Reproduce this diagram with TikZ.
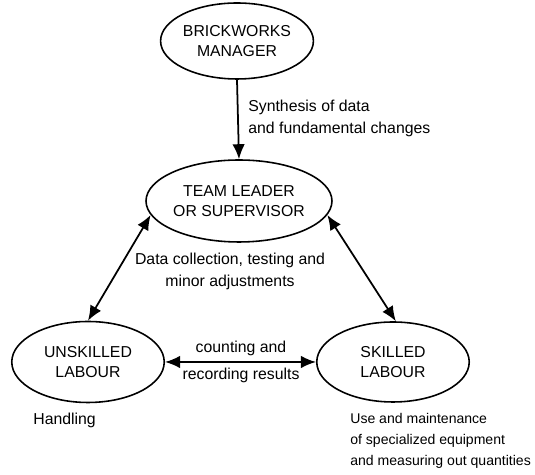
\documentclass[tikz,border=0pt]{standalone}
\usepackage{fontspec}
\setmainfont{Liberation Sans}
\usetikzlibrary{arrows.meta,shapes.geometric}

\begin{document}
\begin{tikzpicture}[x=0.02cm,y=-0.02cm,
    every node/.style={font=\fontsize{9}{12.5}\selectfont,align=center,inner sep=0pt},
    role/.style={draw,line width=0.9pt,ellipse,minimum width=2.9cm,minimum height=1.6cm,font=\fontsize{9}{11.5}\selectfont},
    note/.style={align=left},
    link/.style={line width=1pt,-{Latex[length=3mm,width=2.5mm]}},
    twoway/.style={line width=1pt,{Latex[length=3mm,width=2.5mm]}-{Latex[length=3mm,width=2.5mm]}}]
    \useasboundingbox (0,0) rectangle (535,475);
    % people
    \node[role,minimum width=2.85cm,minimum height=1.52cm] (mgr) at (237,41) {BRICKWORKS\\MANAGER};
    \node[role,minimum width=3.05cm,minimum height=1.64cm] (lead) at (239,201) {TEAM LEADER\\OR SUPERVISOR};
    \node[role,minimum width=3.05cm,minimum height=1.62cm] (unsk) at (88,362) {UNSKILLED\\LABOUR};
    \node[role,minimum width=3.05cm,minimum height=1.6cm] (skil) at (393,362) {SKILLED\\LABOUR};
    % flows
    \draw[link] (mgr.south) -- (lead.north);
    \draw[twoway] (lead.189) -- (unsk.north);
    \draw[twoway] (lead.-9) -- (skil.86);
    \draw[twoway] (skil.west) -- (unsk.east);
    % labels
    \node[note,anchor=west] (synth) at (248,118) {Synthesis of data\\and fundamental changes};
    \node (collect) at (230,271) {Data collection, testing and\\minor adjustments};
    \node (count) at (241,362) {counting and\\[3pt]recording results};
    \node[anchor=west] (hand) at (33,420) {Handling};
    \node[note,anchor=west,font=\fontsize{8}{12}\selectfont] (use) at (350,441) {Use and maintenance\\of specialized equipment\\and measuring out quantities};
\end{tikzpicture}
\end{document}
